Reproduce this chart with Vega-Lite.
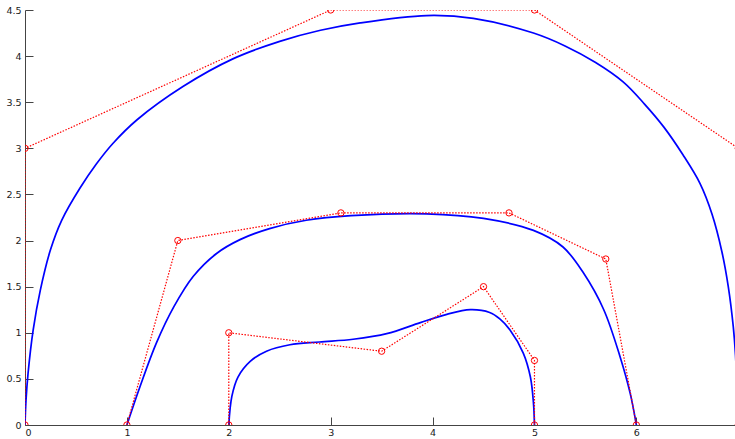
{
  "$schema": "https://vega.github.io/schema/vega-lite/v6.json",
  "width": 710,
  "height": 415,
  "autosize": {"type": "none"},
  "padding": {"left": 25, "top": 10, "right": 0, "bottom": 14},
  "background": "white",
  "config": {
    "view": {"stroke": null},
    "axis": {
      "grid": false,
      "domainColor": "#444444",
      "domainWidth": 1,
      "tickColor": "#444444",
      "tickWidth": 1,
      "labelFont": "DejaVu Sans",
      "labelFontSize": 9.5,
      "labelColor": "#1a1a1a",
      "title": null
    }
  },
  "resolve": {"axis": {"x": "independent", "y": "independent"}},
  "datasets": {
    "curves": [
      {"g": "A", "i": 0, "x": 0, "y": 0},
      {"g": "A", "i": 1, "x": 0.01, "y": 0.27},
      {"g": "A", "i": 2, "x": 0.03, "y": 0.56},
      {"g": "A", "i": 3, "x": 0.08, "y": 1.03},
      {"g": "A", "i": 4, "x": 0.15, "y": 1.46},
      {"g": "A", "i": 5, "x": 0.25, "y": 1.9},
      {"g": "A", "i": 6, "x": 0.36, "y": 2.22},
      {"g": "A", "i": 7, "x": 0.54, "y": 2.57},
      {"g": "A", "i": 8, "x": 0.7, "y": 2.83},
      {"g": "A", "i": 9, "x": 0.86, "y": 3.05},
      {"g": "A", "i": 10, "x": 1.1, "y": 3.31},
      {"g": "A", "i": 11, "x": 1.55, "y": 3.67},
      {"g": "A", "i": 12, "x": 2.04, "y": 3.97},
      {"g": "A", "i": 13, "x": 2.5, "y": 4.16},
      {"g": "A", "i": 14, "x": 2.9, "y": 4.28},
      {"g": "A", "i": 15, "x": 3.29, "y": 4.36},
      {"g": "A", "i": 16, "x": 3.94, "y": 4.44},
      {"g": "A", "i": 17, "x": 4.4, "y": 4.41},
      {"g": "A", "i": 18, "x": 4.99, "y": 4.25},
      {"g": "A", "i": 19, "x": 5.3, "y": 4.11},
      {"g": "A", "i": 20, "x": 5.6, "y": 3.93},
      {"g": "A", "i": 21, "x": 5.87, "y": 3.72},
      {"g": "A", "i": 22, "x": 6.08, "y": 3.48},
      {"g": "A", "i": 23, "x": 6.27, "y": 3.23},
      {"g": "A", "i": 24, "x": 6.457, "y": 2.93},
      {"g": "A", "i": 25, "x": 6.624, "y": 2.62},
      {"g": "A", "i": 26, "x": 6.742, "y": 2.288},
      {"g": "A", "i": 27, "x": 6.84, "y": 1.876},
      {"g": "A", "i": 28, "x": 6.902, "y": 1.5},
      {"g": "A", "i": 29, "x": 6.951, "y": 1.066},
      {"g": "A", "i": 30, "x": 6.973, "y": 0.759},
      {"g": "A", "i": 31, "x": 6.987, "y": 0.38},
      {"g": "A", "i": 32, "x": 6.997, "y": 0},
      {"g": "B", "i": 0, "x": 1, "y": 0},
      {"g": "B", "i": 1, "x": 1.13, "y": 0.42},
      {"g": "B", "i": 2, "x": 1.29, "y": 0.89},
      {"g": "B", "i": 3, "x": 1.46, "y": 1.28},
      {"g": "B", "i": 4, "x": 1.65, "y": 1.61},
      {"g": "B", "i": 5, "x": 1.88, "y": 1.86},
      {"g": "B", "i": 6, "x": 2.11, "y": 2.01},
      {"g": "B", "i": 7, "x": 2.4, "y": 2.13},
      {"g": "B", "i": 8, "x": 2.76, "y": 2.22},
      {"g": "B", "i": 9, "x": 3.2, "y": 2.27},
      {"g": "B", "i": 10, "x": 3.94, "y": 2.29},
      {"g": "B", "i": 11, "x": 4.5, "y": 2.24},
      {"g": "B", "i": 12, "x": 4.99, "y": 2.11},
      {"g": "B", "i": 13, "x": 5.28, "y": 1.93},
      {"g": "B", "i": 14, "x": 5.48, "y": 1.65},
      {"g": "B", "i": 15, "x": 5.68, "y": 1.25},
      {"g": "B", "i": 16, "x": 5.84, "y": 0.74},
      {"g": "B", "i": 17, "x": 5.94, "y": 0.34},
      {"g": "B", "i": 18, "x": 6.0, "y": 0},
      {"g": "C", "i": 0, "x": 2, "y": 0},
      {"g": "C", "i": 1, "x": 2.03, "y": 0.31},
      {"g": "C", "i": 2, "x": 2.09, "y": 0.52},
      {"g": "C", "i": 3, "x": 2.21, "y": 0.69},
      {"g": "C", "i": 4, "x": 2.37, "y": 0.8},
      {"g": "C", "i": 5, "x": 2.6, "y": 0.87},
      {"g": "C", "i": 6, "x": 2.89, "y": 0.9},
      {"g": "C", "i": 7, "x": 3.22, "y": 0.93},
      {"g": "C", "i": 8, "x": 3.55, "y": 0.99},
      {"g": "C", "i": 9, "x": 3.88, "y": 1.11},
      {"g": "C", "i": 10, "x": 4.14, "y": 1.2},
      {"g": "C", "i": 11, "x": 4.37, "y": 1.25},
      {"g": "C", "i": 12, "x": 4.56, "y": 1.22},
      {"g": "C", "i": 13, "x": 4.66, "y": 1.15},
      {"g": "C", "i": 14, "x": 4.76, "y": 1.03},
      {"g": "C", "i": 15, "x": 4.89, "y": 0.78},
      {"g": "C", "i": 16, "x": 4.96, "y": 0.52},
      {"g": "C", "i": 17, "x": 4.99, "y": 0.24},
      {"g": "C", "i": 18, "x": 5.0, "y": 0}
    ],
    "polys": [
      {"g": "A", "i": 0, "x": 0, "y": 0},
      {"g": "A", "i": 1, "x": 0, "y": 3},
      {"g": "A", "i": 2, "x": 3, "y": 4.5},
      {"g": "A", "i": 3, "x": 5, "y": 4.5},
      {"g": "A", "i": 4, "x": 7, "y": 3},
      {"g": "A", "i": 5, "x": 7, "y": 0},
      {"g": "B", "i": 0, "x": 1, "y": 0},
      {"g": "B", "i": 1, "x": 1.5, "y": 2},
      {"g": "B", "i": 2, "x": 3.1, "y": 2.3},
      {"g": "B", "i": 3, "x": 4.75, "y": 2.3},
      {"g": "B", "i": 4, "x": 5.7, "y": 1.8},
      {"g": "B", "i": 5, "x": 6, "y": 0},
      {"g": "C", "i": 0, "x": 2, "y": 0},
      {"g": "C", "i": 1, "x": 2, "y": 1},
      {"g": "C", "i": 2, "x": 3.5, "y": 0.8},
      {"g": "C", "i": 3, "x": 4.5, "y": 1.5},
      {"g": "C", "i": 4, "x": 5, "y": 0.7},
      {"g": "C", "i": 5, "x": 5, "y": 0}
    ]
  },
  "layer": [
    {
      "data": {"name": "curves"},
      "mark": {"type": "line", "color": "#0000FF", "strokeWidth": 1.7, "clip": true, "interpolate": "catmull-rom"},
      "encoding": {
        "x": {
          "field": "x", "type": "quantitative",
          "scale": {"domain": [0, 6.968], "nice": false, "zero": false},
          "axis": {"orient": "bottom", "values": [0, 1, 2, 3, 4, 5, 6], "format": "~g", "ticks": false, "labelPadding": 2}
        },
        "y": {
          "field": "y", "type": "quantitative",
          "scale": {"domain": [0, 4.5], "nice": false},
          "axis": {"orient": "left", "values": [0, 0.5, 1, 1.5, 2, 2.5, 3, 3.5, 4, 4.5], "format": "~g", "ticks": false, "labelPadding": 4}
        },
        "detail": {"field": "g"},
        "order": {"field": "i"}
      }
    },
    {
      "data": {"name": "polys"},
      "mark": {"type": "line", "color": "#FF0000", "strokeWidth": 1.2, "strokeDash": [1.5, 1.5], "clip": true},
      "encoding": {
        "x": {
          "field": "x", "type": "quantitative",
          "axis": {"orient": "top", "offset": -415, "values": [0, 1, 2, 3, 4, 5, 6], "labels": false, "domain": false, "ticks": true, "tickSize": 8}
        },
        "y": {
          "field": "y", "type": "quantitative",
          "axis": {"orient": "right", "offset": -710, "values": [0, 0.5, 1, 1.5, 2, 2.5, 3, 3.5, 4, 4.5], "labels": false, "domain": false, "ticks": true, "tickSize": 8}
        },
        "detail": {"field": "g"},
        "order": {"field": "i"}
      }
    },
    {
      "data": {"name": "polys"},
      "mark": {"type": "point", "shape": "circle", "filled": false, "color": "#FF0000", "strokeWidth": 1, "size": 40, "opacity": 1, "clip": true},
      "encoding": {
        "x": {"field": "x", "type": "quantitative", "axis": null},
        "y": {"field": "y", "type": "quantitative", "axis": null}
      }
    }
  ]
}
